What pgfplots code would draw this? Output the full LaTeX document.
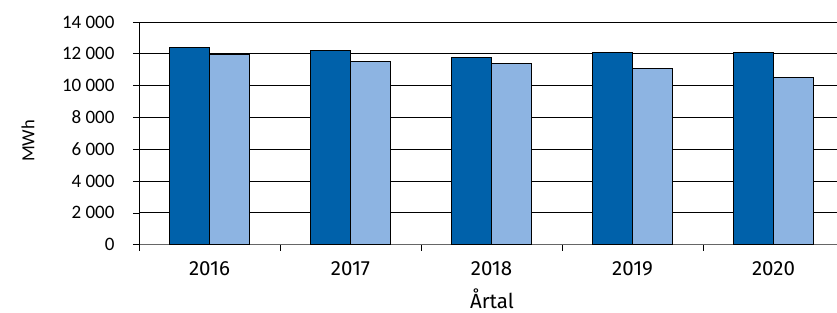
\documentclass[border=0pt]{standalone}
\usepackage{fontspec}
\setmainfont{Fira Sans}
\newfontfamily\carlito{Carlito}
\usepackage{pgfplots}
\pgfplotsset{compat=1.18}
\definecolor{darkb}{RGB}{0,97,170}
\definecolor{lightb}{RGB}{141,180,226}
\begin{document}
\begin{tikzpicture}
\begin{axis}[
  at={(139bp,68.3bp)}, anchor=south west,
  scale only axis, width=698bp, height=222.7bp,
  ymin=0, ymax=14000, xmin=-0.5, xmax=4.45,
  ybar=0pt, bar width=40bp,
  axis x line*=bottom, axis y line*=left,
  x axis line style={draw=black!60, line width=0.9bp},
  y axis line style={draw=black, line width=0.8bp},
  ymajorgrids, grid style={black, line width=0.8bp},
  tick align=outside, major tick length=6bp,
  tick style={black, line width=0.7bp},
  xtick={-0.5,0.5,1.5,2.5,3.5}, xticklabels={},
  extra x ticks={0,1,2,3,4},
  extra x tick labels={2016,2017,2018,2019,2020},
  extra x tick style={major tick length=0pt, grid=none},
  x tick label style={font=\fontsize{20.5bp}{22bp}\selectfont, yshift=-13bp},
  ytick={0,2000,...,14000},
  scaled y ticks=false,
  y tick label style={font=\carlito\fontsize{19bp}{20bp}\selectfont, xshift=-15bp,
    /pgf/number format/.cd, 1000 sep={\ }, assume math mode=true},
  ylabel={MWh},
  ylabel style={font=\carlito\fontsize{18.5bp}{20bp}\selectfont,
    at={(axis description cs:-0.159,0.466)}, anchor=center},
  xlabel={Årtal},
  xlabel style={font=\fontsize{20.5bp}{22bp}\selectfont,
    at={(axis description cs:0.5057,-0.288)}, anchor=base},
]
\addplot[fill=darkb, draw=black, line width=0.7bp] coordinates {(0,12380) (1,12230) (2,11770) (3,12090) (4,12090)};
\addplot[fill=lightb, draw=black, line width=0.7bp] coordinates {(0,11960) (1,11520) (2,11370) (3,11060) (4,10500)};
\end{axis}
\pgfresetboundingbox
\useasboundingbox (0,0) rectangle (837bp,313bp);
\end{tikzpicture}
\end{document}
